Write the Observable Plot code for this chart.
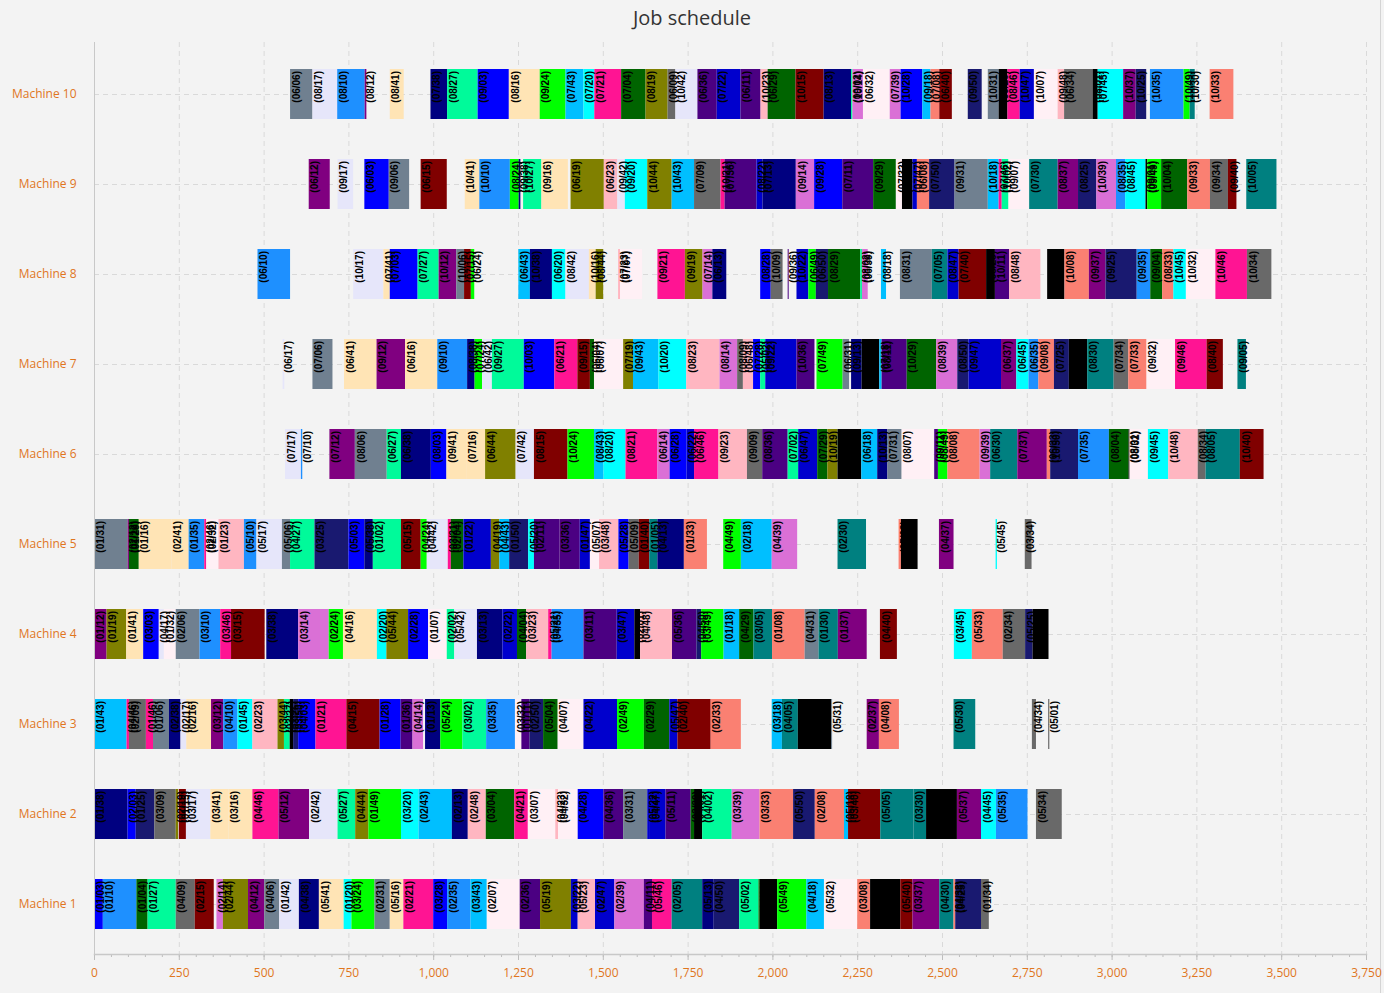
<!DOCTYPE html>
<html><head><meta charset="utf-8">
<script src="https://cdn.jsdelivr.net/npm/d3@7"></script>
<script src="https://cdn.jsdelivr.net/npm/@observablehq/plot@0.6"></script>
<style>
html,body{margin:0;padding:0;background:#f3f3f3;}
#wrap{position:relative;width:1384px;height:993px;overflow:hidden;background:#f3f3f3;}
#title{position:absolute;top:4px;left:0;width:1384px;text-align:center;font:20px "Open Sans",sans-serif;color:#333;}
#edge{position:absolute;left:1380px;top:0;width:1px;height:993px;background:#d4d4d4;}
#wrap svg{position:absolute;left:0;top:0;}
</style></head><body><div id="wrap"><div id="title">Job schedule</div><div id="edge"></div></div>
<script>
// Each machine: [op/job label, start, end]
const machine10 = [["06/06",578,644],["08/17",644,717],["08/10",717,798],["08/12",798,803],["08/41",872,913],["07/38",992,1041],["08/27",1041,1131],["09/03",1131,1223],["08/16",1223,1314],["09/24",1314,1390],["07/43",1390,1443],["07/20",1443,1475],["07/21",1475,1554],["07/04",1554,1626],["08/19",1626,1691],["06/09",1691,1714],["10/42",1714,1779],["06/36",1779,1836],["07/22",1836,1906],["06/11",1906,1965],["10/23",1965,1986],["06/29",1986,2068],["10/15",2068,2151],["08/13",2151,2232],["09/02",2232,2236],["10/14",2236,2267],["06/32",2267,2346],["07/39",2346,2378],["10/28",2378,2442],["09/18",2442,2466],["07/08",2466,2492],["06/40",2492,2529],["09/50",2576,2617],["10/31",2635,2667],["09/26",2667,2693],["08/46",2693,2729],["10/47",2729,2771],["10/07",2771,2841],["09/48",2841,2860],["06/34",2860,2944],["08/01",2944,2959],["07/45",2959,3034],["10/37",3034,3071],["10/25",3071,3102],["10/35",3113,3212],["10/49",3212,3230],["10/30",3230,3245],["10/33",3289,3359]];
const machine9 = [["06/12",633,695],["09/17",718,764],["06/03",797,869],["09/06",869,929],["06/15",963,1040],["10/41",1093,1136],["10/10",1136,1226],["08/24",1226,1252],["09/38",1252,1257],["10/27",1265,1319],["09/16",1319,1397],["06/19",1405,1503],["06/23",1503,1543],["09/42",1543,1565],["09/20",1565,1631],["10/44",1631,1703],["10/43",1703,1769],["07/09",1769,1847],["10/21",1847,1859],["07/36",1859,1953],["08/22",1953,1971],["07/13",1971,2069],["09/14",2069,2123],["09/28",2123,2206],["07/11",2206,2297],["09/29",2297,2364],["07/32",2364,2382],["07/26",2382,2413],["07/47",2413,2426],["06/08",2426,2462],["07/50",2462,2537],["09/31",2537,2635],["10/18",2635,2667],["07/46",2667,2676],["10/02",2676,2696],["09/07",2696,2755],["07/30",2757,2841],["08/37",2841,2901],["08/25",2901,2955],["10/39",2955,3013],["08/35",3013,3040],["08/45",3040,3100],["09/01",3100,3105],["09/49",3105,3146],["10/04",3146,3223],["09/33",3223,3290],["09/34",3290,3343],["09/40",3343,3368],["10/05",3397,3486]];
const machine8 = [["06/10",482,578],["10/17",764,853],["07/41",853,872],["07/03",872,954],["07/27",954,1016],["10/12",1016,1068],["10/06",1068,1091],["07/15",1091,1111],["06/24",1111,1121],["06/43",1251,1285],["10/38",1285,1350],["06/20",1350,1390],["08/42",1390,1459],["10/16",1459,1479],["08/44",1479,1501],["07/23",1545,1551],["07/07",1551,1616],["09/21",1661,1742],["09/19",1742,1794],["07/14",1794,1823],["06/13",1823,1864],["08/28",1964,1995],["10/09",1995,2030],["09/36",2045,2048],["10/22",2071,2106],["06/49",2106,2128],["06/50",2128,2164],["08/29",2164,2259],["08/02",2259,2264],["06/39",2264,2281],["08/18",2320,2335],["08/31",2376,2470],["07/05",2470,2516],["08/47",2516,2549],["07/40",2549,2630],["08/26",2630,2656],["10/11",2656,2698],["08/48",2698,2790],["07/01",2810,2861],["10/08",2861,2933],["09/37",2933,2982],["09/25",2982,3074],["09/35",3074,3114],["09/04",3114,3149],["08/33",3149,3182],["10/45",3182,3219],["10/32",3219,3306],["10/46",3306,3399],["10/34",3399,3471]];
const machine7 = [["06/17",556,561],["07/06",644,703],["06/41",737,833],["09/12",833,917],["06/16",917,1012],["09/10",1012,1100],["08/38",1100,1122],["07/24",1122,1144],["06/42",1144,1173],["09/27",1173,1267],["10/03",1267,1357],["06/21",1357,1425],["09/15",1425,1462],["06/04",1462,1474],["06/07",1474,1560],["07/19",1560,1589],["09/43",1589,1664],["10/20",1664,1746],["08/23",1746,1844],["08/14",1844,1896],["08/09",1896,1913],["06/48",1913,1943],["07/28",1943,1964],["05/02",1964,1979],["09/22",1979,2071],["10/36",2071,2124],["07/49",2130,2207],["06/31",2207,2226],["09/13",2232,2263],["10/26",2263,2315],["07/18",2315,2322],["08/11",2322,2396],["10/29",2396,2483],["08/39",2483,2545],["08/50",2545,2578],["09/47",2578,2674],["06/37",2674,2719],["06/45",2719,2755],["06/35",2755,2784],["09/08",2784,2830],["07/25",2830,2874],["10/01",2874,2928],["08/30",2928,3006],["07/34",3006,3049],["07/33",3049,3103],["09/32",3103,3187],["09/46",3187,3280],["08/40",3280,3328],["09/05",3371,3396]];
const machine6 = [["07/17",563,610],["07/10",610,614],["07/12",694,769],["08/06",769,863],["06/27",863,905],["06/38",905,993],["08/03",993,1039],["09/41",1039,1097],["07/16",1097,1153],["06/44",1153,1243],["07/42",1243,1297],["08/15",1297,1396],["10/24",1396,1474],["08/43",1474,1502],["08/20",1502,1567],["08/21",1567,1661],["06/14",1661,1697],["06/28",1697,1747],["06/22",1747,1769],["06/46",1769,1841],["09/23",1841,1925],["09/09",1925,1970],["08/36",1970,2045],["07/02",2045,2076],["06/47",2076,2132],["07/29",2132,2162],["10/19",2162,2192],["09/26",2192,2262],["06/18",2262,2309],["10/13",2309,2339],["07/31",2339,2381],["08/07",2381,2475],["09/11",2477,2488],["08/49",2488,2516],["08/08",2516,2611],["09/39",2611,2642],["06/30",2642,2722],["07/37",2722,2809],["06/33",2809,2819],["10/50",2819,2901],["07/35",2901,2992],["08/04",2992,3050],["08/01",3050,3053],["08/32",3053,3107],["09/45",3107,3167],["10/48",3167,3254],["08/34",3254,3277],["08/05",3277,3378],["10/40",3378,3448]];
const machine5 = [["01/31",0,99],["02/12",99,103],["01/29",103,132],["01/16",132,229],["02/41",229,279],["01/35",279,325],["02/46",325,331],["02/32",331,367],["01/23",367,442],["05/10",442,479],["05/17",479,554],["05/06",554,578],["04/27",578,650],["03/25",650,750],["05/03",750,797],["05/38",797,822],["01/02",822,905],["05/15",905,963],["04/24",963,981],["04/42",981,1043],["03/21",1043,1052],["02/04",1052,1089],["01/22",1089,1170],["04/19",1170,1195],["04/43",1195,1224],["01/50",1224,1280],["05/20",1280,1297],["02/11",1297,1372],["03/36",1372,1432],["01/47",1432,1462],["05/07",1462,1489],["03/48",1489,1546],["05/28",1546,1576],["05/09",1576,1606],["01/40",1606,1637],["01/05",1637,1661],["04/13",1661,1739],["01/33",1739,1807],["04/49",1855,1907],["02/18",1907,1998],["04/39",1998,2073],["02/30",2192,2276],["05/08",2372,2379],["03/26",2379,2428],["04/37",2491,2534],["05/45",2658,2662],["03/34",2744,2764]];
const machine4 = [["01/12",0,37],["01/19",37,95],["01/41",95,145],["03/03",145,191],["04/17",191,206],["01/32",206,241],["02/06",241,311],["03/10",311,372],["03/46",372,404],["03/15",404,503],["03/38",508,602],["03/14",602,692],["02/24",692,734],["04/16",734,834],["02/20",834,862],["05/44",862,926],["02/28",926,985],["01/07",985,1040],["02/02",1040,1062],["05/42",1062,1129],["03/13",1129,1204],["02/22",1204,1247],["04/04",1247,1274],["03/23",1274,1339],["05/21",1339,1349],["04/35",1349,1443],["03/11",1443,1541],["03/47",1541,1593],["02/01",1593,1610],["04/48",1610,1704],["05/36",1704,1776],["04/50",1776,1790],["03/49",1790,1856],["01/18",1856,1902],["04/29",1902,1944],["03/05",1944,1999],["01/08",1999,2095],["04/31",2095,2136],["01/30",2136,2193],["01/37",2193,2278],["04/40",2317,2367],["03/45",2535,2588],["05/33",2588,2679],["02/34",2679,2745],["05/25",2745,2767],["02/26",2767,2814]];
const machine3 = [["01/43",0,96],["04/46",96,103],["02/09",103,153],["01/46",153,174],["01/06",174,221],["02/38",221,255],["02/17",255,272],["02/16",272,345],["03/12",345,381],["04/10",381,423],["01/45",423,467],["02/23",467,541],["03/44",541,560],["03/27",560,577],["03/26",577,587],["03/50",587,602],["04/03",602,653],["01/21",653,744],["04/15",744,842],["01/28",842,904],["01/36",904,939],["04/14",939,970],["01/13",976,1021],["05/24",1021,1086],["03/02",1086,1156],["03/35",1156,1241],["03/32",1241,1260],["01/11",1260,1284],["02/50",1284,1324],["05/04",1324,1367],["04/07",1367,1443],["04/22",1443,1542],["02/49",1542,1621],["02/29",1621,1696],["05/47",1696,1720],["02/40",1720,1818],["02/33",1818,1907],["03/18",1998,2028],["04/05",2028,2075],["03/01",2075,2173],["05/31",2173,2176],["02/37",2278,2314],["04/08",2314,2373],["05/30",2534,2598],["04/34",2765,2777],["05/01",2814,2816]];
const machine2 = [["01/38",0,99],["02/03",99,123],["01/25",123,178],["03/09",178,241],["02/19",241,248],["01/15",250,271],["03/17",271,343],["03/41",343,397],["03/16",397,467],["04/46",467,544],["05/12",544,634],["02/42",634,718],["05/27",718,770],["04/44",770,809],["01/49",809,905],["03/20",905,957],["02/43",957,1055],["02/13",1055,1102],["02/48",1102,1155],["03/04",1155,1239],["04/21",1239,1279],["03/07",1279,1360],["04/23",1360,1368],["04/32",1368,1426],["04/28",1426,1502],["04/36",1502,1560],["03/31",1560,1631],["05/22",1631,1639],["04/47",1639,1685],["05/11",1685,1759],["03/29",1759,1769],["04/01",1769,1793],["04/02",1793,1880],["03/39",1880,1962],["03/33",1962,2061],["05/50",2061,2125],["02/08",2125,2211],["05/18",2211,2223],["03/40",2223,2318],["05/05",2318,2416],["03/30",2416,2453],["04/26",2453,2544],["05/37",2544,2615],["04/45",2615,2659],["05/35",2659,2752],["05/34",2777,2853]];
const machine1 = [["01/03",0,26],["01/10",26,125],["01/04",125,158],["01/27",158,241],["04/09",241,297],["02/15",297,353],["02/14",361,380],["02/44",380,454],["04/12",454,502],["04/06",502,546],["01/42",546,604],["04/38",604,663],["05/41",663,736],["01/20",736,759],["03/24",759,827],["02/31",827,872],["05/16",872,912],["02/21",912,1000],["03/28",1000,1041],["02/35",1041,1110],["03/43",1110,1158],["02/07",1158,1255],["02/36",1255,1315],["05/19",1315,1406],["03/22",1406,1426],["05/23",1426,1477],["02/47",1477,1534],["02/39",1534,1621],["04/11",1621,1645],["05/46",1645,1703],["02/05",1703,1793],["05/13",1793,1827],["04/50",1827,1902],["05/02",1902,1959],["04/29",1959,1963],["05/26",1963,2014],["05/49",2014,2100],["04/18",2100,2152],["05/32",2152,2250],["03/08",2250,2288],["03/01",2288,2377],["05/40",2377,2413],["03/37",2413,2492],["04/30",2492,2534],["04/33",2534,2539],["04/25",2539,2615],["01/34",2615,2638]];

const machines = ["Machine 10","Machine 9","Machine 8","Machine 7","Machine 6","Machine 5","Machine 4","Machine 3","Machine 2","Machine 1"];
const schedules = [machine10,machine9,machine8,machine7,machine6,machine5,machine4,machine3,machine2,machine1];
const xTicks = d3.range(0, 3751, 250);
const xMinorTicks = d3.range(0, 3751, 50);

// job colour palette (cycles every 25 jobs)
const palette = ["black","mediumspringgreen","blue","darkgreen","teal","slategray","lavenderblush","salmon","dimgray","dodgerblue","indigo","purple","navy","orchid","maroon","moccasin","lavender","deepskyblue","olive","aqua","deeppink","mediumblue","lightpink","lime","midnightblue"];

const data = [];
schedules.forEach((rows, i) => rows.forEach(([label, start, end]) => {
  const job = +label.split("/")[1];
  data.push({machine: machines[i], label: `(${label})`, start, end, color: palette[(job - 1) % 25]});
}));

const orange = "#e0761e";
const fmt = d3.format(",");
const chart = Plot.plot({
  width: 1384, height: 993,
  marginLeft: 94, marginRight: 18, marginTop: 42, marginBottom: 39,
  style: {background: "transparent", fontFamily: "'Open Sans', sans-serif", fontSize: "12px"},
  x: {domain: [0, 3750]},
  y: {type: "band", domain: machines, range: [48, 949], padding: 0},
  color: {type: "identity"},
  marks: [
    Plot.gridX({ticks: xTicks.slice(1), stroke: "#d9d9d9", strokeOpacity: 1, strokeDasharray: "5,4"}),
    Plot.gridY({stroke: "#d9d9d9", strokeOpacity: 1, strokeDasharray: "5,4"}),
    Plot.barX(data, {x1: "start", x2: "end", y: "machine", fill: "color", insetTop: 20, insetBottom: 20}),
    Plot.text(data, {x: "start", y: "machine", text: "label", rotate: -90, textAnchor: "end", lineAnchor: "middle",
      dx: 6, dy: -23.5, fontSize: 10, fontWeight: "bold", fill: "black", fontFamily: "Arial, 'Liberation Sans', sans-serif"}),
    Plot.axisX({ticks: xTicks, tickFormat: d => fmt(d), tickSize: 6, tickPadding: 8, stroke: "#bdbdbd", fill: orange, label: null, fontSize: 12}),
    Plot.axisX({ticks: xMinorTicks, tickSize: 3, text: null, stroke: "#bdbdbd", label: null}),
    Plot.axisY({tickSize: 0, tickPadding: 18, fill: orange, label: null, fontSize: 12}),
    Plot.frame({anchor: "left", stroke: "#c8c8c8"}),
    Plot.frame({anchor: "bottom", stroke: "#c8c8c8", strokeWidth: 1.5})
  ]
});
document.getElementById("wrap").appendChild(chart);
</script>
</body></html>
